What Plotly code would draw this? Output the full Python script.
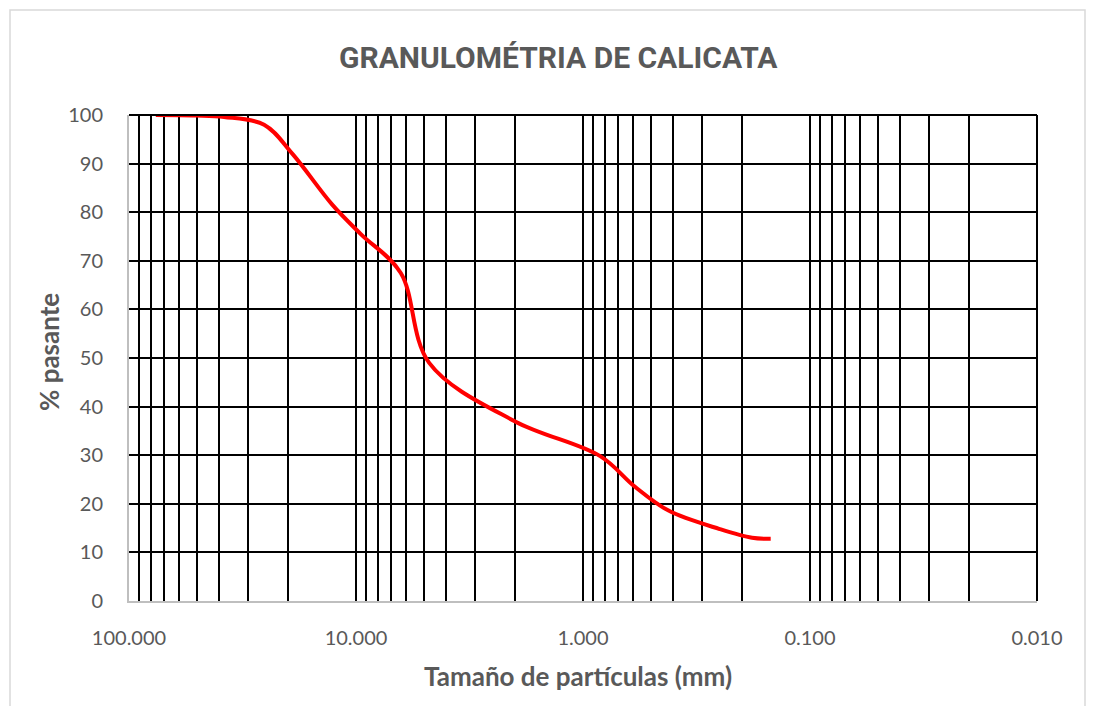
import plotly.graph_objects as go

# Data
sizes_mm = [76.2, 50.8, 38.1, 25.4, 19.05, 12.7, 9.525, 6.35, 4.76, 2.0, 0.84, 0.59, 0.42, 0.25, 0.18, 0.149]
pct_passing = [100.0, 99.9, 99.6, 98.0, 92.0, 81.5, 75.5, 67.5, 49.0, 37.0, 29.8, 23.5, 18.6, 14.8, 13.0, 12.8]

decades = [100, 10, 1, 0.1, 0.01]
decade_labels = ["100.000", "10.000", "1.000", "0.100", "0.010"]

# gridline positions: 1..9 in each decade
grid_vals = []
grid_text = []
for k in [-2, -1, 0, 1]:
    for m in range(1, 10):
        grid_vals.append(round(m * 10 ** k, 6))
        grid_text.append("")
grid_vals.append(100)
grid_text.append("")
for v, t in zip(decades, decade_labels):
    idx = min(range(len(grid_vals)), key=lambda i: abs(grid_vals[i] - v))
    grid_text[idx] = t

fig = go.Figure()
fig.add_trace(go.Scatter(
    x=sizes_mm, y=pct_passing, mode="lines",
    line=dict(color="#FF0000", width=4, shape="spline", smoothing=1.0),
    showlegend=False, hoverinfo="x+y"))

tickfont = dict(family="Lato, sans-serif", size=20, color="#595959")

# page offset: html body margin 8px
W, H = 1078, 698
L, R, T, B = 121, 49, 107, 105
PW, PH = W - L - R, H - T - B


def px(xp):
    return (xp - 8 - L) / PW


def py(yp):
    return (H - B - (yp - 8)) / PH


fig.update_layout(
    width=W, height=H,
    margin=dict(l=L, r=R, t=T, b=B),
    paper_bgcolor="white", plot_bgcolor="white",
    xaxis=dict(type="log", range=[2, -2], tickvals=grid_vals, ticktext=grid_text,
               showgrid=True, gridcolor="black", gridwidth=2,
               showline=True, linecolor="#BFBFBF", linewidth=2, mirror=False,
               ticks="", tickfont=tickfont, ticklabelstandoff=18, zeroline=False),
    yaxis=dict(range=[0, 100], dtick=10, showgrid=True, gridcolor="black", gridwidth=2,
               showline=True, linecolor="#BFBFBF", linewidth=2, mirror=False,
               ticks="", tickfont=tickfont, ticklabelstandoff=20, zeroline=False),
    annotations=[
        dict(text="<b>GRANULOMÉTRIA DE CALICATA</b>", xref="paper", yref="paper",
             x=px(558), y=py(58), xanchor="center", yanchor="middle",
             showarrow=False,
             font=dict(family="Roboto, sans-serif", size=30, color="#595959")),
        dict(text="<b>Tamaño de partículas (mm)</b>", xref="paper", yref="paper",
             x=px(578), y=py(676), xanchor="center", yanchor="middle",
             showarrow=False,
             font=dict(family="Lato, sans-serif", size=26, color="#595959")),
        dict(text="<b>% pasante</b>", xref="paper", yref="paper",
             x=px(49), y=py(352), xanchor="center", yanchor="middle",
             textangle=-90, showarrow=False,
             font=dict(family="Lato, sans-serif", size=26, color="#595959")),
    ],
    shapes=[
        dict(type="rect", xref="paper", yref="paper",
             x0=px(10), x1=px(1085), y0=py(730), y1=py(10),
             line=dict(color="#D9D9D9", width=1.5), layer="below"),
        dict(type="line", xref="paper", yref="paper", x0=0, x1=1, y0=1, y1=1,
             line=dict(color="black", width=2)),
        dict(type="line", xref="paper", yref="paper", x0=1, x1=1, y0=0, y1=1,
             line=dict(color="black", width=2)),
    ],
)

fig.write_html("out.html")
